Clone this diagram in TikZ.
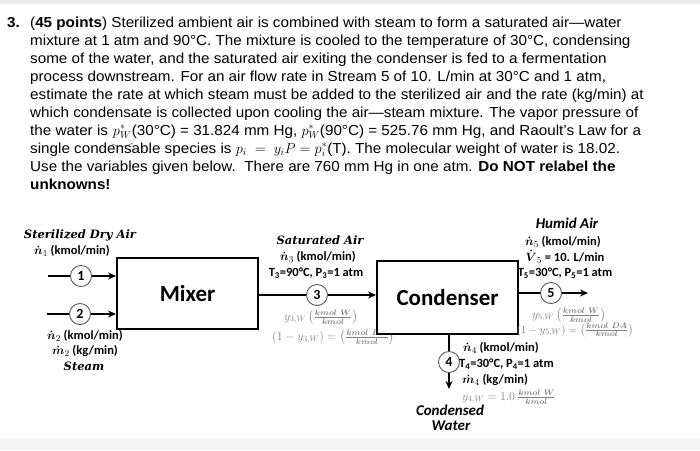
\documentclass[tikz,border=0pt]{standalone}
\usepackage{amsmath}
\usepackage{fontspec}
\setmainfont{Liberation Sans}[FakeStretch=1.05]
\newfontfamily\calfont{Carlito}
\newfontfamily\cambfont{DejaVu Serif}
\usetikzlibrary{arrows.meta}
\tikzset{
  txt/.style={anchor=base west, inner sep=0pt, font=\fontsize{14.5}{17}\selectfont},
  lab/.style={inner sep=0pt, text height=9pt, text depth=2.5pt, font=\calfont\bfseries\fontsize{12.5}{14}\selectfont},
  labw/.style={lab, anchor=west},
  serbi/.style={inner sep=0pt, text height=9pt, text depth=2.5pt, font=\cambfont\bfseries\itshape\fontsize{11.5}{14}\selectfont},
  calbi/.style={inner sep=0pt, text height=10pt, text depth=2.5pt, font=\calfont\bfseries\itshape\fontsize{15}{17}\selectfont},
  grayf/.style={inner sep=0pt, text=black!50, font=\fontsize{12}{14}\selectfont},
  unit/.style={draw, line width=2.2pt, fill=white, inner sep=0pt,
    font=\calfont\bfseries\fontsize{23}{26}\selectfont},
  circ/.style={circle, draw=black!65, line width=0.9pt, fill=white, minimum size=21pt,
    inner sep=0pt, font=\calfont\bfseries\fontsize{14}{16}\selectfont},
  flow/.style={line width=2pt},
  flowarr/.style={line width=2pt, -{Stealth[length=8pt,width=7pt]}}
}
\begin{document}
\begin{tikzpicture}[x=1pt,y=-1pt]
\useasboundingbox (0,0) rectangle (700,450);
\fill[white] (0,0) rectangle (700,450);
\fill[black!7] (0,0) rectangle (700,4);
\fill[black!4] (0,438) rectangle (700,450);

% problem statement
\node[txt] (q0) at (7,27) {\bfseries 3.};
\node[txt] (q1) at (30,27) {(\textbf{45 points}) Sterilized ambient air is combined with steam to form a saturated air—water};
\node[txt] (q2) at (30,45) {mixture at 1 atm and 90°C. The mixture is cooled to the temperature of 30°C, condensing};
\node[txt] (q3) at (30,63) {some of the water, and the saturated air exiting the condenser is fed to a fermentation};
\node[txt] (q4) at (30,81) {process downstream. For an air flow rate in Stream 5 of 10. L/min at 30°C and 1 atm,};
\node[txt] (q5) at (30,99) {estimate the rate at which steam must be added to the sterilized air and the rate (kg/min) at};
\node[txt] (q6) at (30,117) {which condensate is collected upon cooling the air—steam mixture. The vapor pressure of};
\node[txt] (q7a) at (30,135) {the water is};
\node[txt] (q7b) at ([xshift=4.5pt]q7a.base east) {$p_W^*$};
\node[txt] (q7c) at (q7b.base east) {(30°C) = 31.824 mm Hg, $p_W^*$(90°C) = 525.76 mm Hg, and Raoult's Law for a};
\draw[black!45, line width=0.8pt] ([xshift=-1pt,yshift=-5pt]q7b.south west) .. controls ([xshift=6pt,yshift=-8pt]q7b.south west) and ([xshift=-6pt,yshift=-8pt]q7b.south east) .. ([xshift=1pt,yshift=-4pt]q7b.south east);
\node[txt] (q8) at (30,153) {single condensable species is $p_i\;=\;y_iP = p_i^*$(T). The molecular weight of water is 18.02.};
\node[txt] (q9) at (30,171) {Use the variables given below.\ \ There are 760 mm Hg in one atm. \textbf{Do NOT relabel the}};
\node[txt] (q10) at (30,189) {\bfseries unknowns!};

% formulas that sit partly under the condenser box
\node[grayf] (f3a) at (321,317) {$y_{3,W}\left(\frac{\boldsymbol{kmol\ W}}{\boldsymbol{kmol}}\right)$};
\node[grayf, anchor=west] (f3b) at (272,337) {$(1-y_{3,W}) = \left(\frac{\boldsymbol{kmol\ DA}}{\boldsymbol{kmol}}\right)$};
\node[lab] (l5d) at (565,273) {T\textsubscript{5}=30°C, P\textsubscript{5}=1 atm};

% units
\node[unit, minimum width=141pt, minimum height=71pt, anchor=north west] (mixer) at (116,257) {Mixer};
\node[unit, minimum width=141pt, minimum height=73pt, anchor=north west] (cond) at (376,260) {Condenser};

% stream 1
\coordinate (s1a) at (48,276);
\node[circ] (c1) at (81,276) {1};
\draw[flow] (s1a) -- (c1);
\draw[flowarr] (c1) -- (c1 -| mixer.west);
\node[serbi] (l1a) at (80,235) {Sterilized Dry Air};
\node[lab] (l1b) at (72,251) {$\boldsymbol{\dot n}_1$ (kmol/min)};

% stream 2
\coordinate (s2a) at (47,314);
\node[circ] (c2) at (80,314) {2};
\draw[flow] (s2a) -- (c2);
\draw[flowarr] (c2) -- (c2 -| mixer.west);
\node[lab] (l2a) at (85,336) {$\boldsymbol{\dot n}_2$ (kmol/min)};
\node[lab] (l2b) at (85,351) {$\boldsymbol{\dot m}_2$ (kg/min)};
\node[serbi] (l2c) at (84,367) {Steam};

% stream 3
\node[circ] (c3) at (317,295) {3};
\draw[flow] (mixer.east |- c3) -- (c3);
\draw[flowarr] (c3) -- (c3 -| cond.west);
\node[serbi] (l3a) at (320,241) {Saturated Air};
\node[lab] (l3b) at (318,257) {$\boldsymbol{\dot n}_3$ (kmol/min)};
\node[lab] (l3c) at (316,273) {T\textsubscript{3}=90°C, P\textsubscript{3}=1 atm};

% stream 5
\node[circ] (c5) at (551,293) {5};
\coordinate (s5b) at (588,293);
\draw[flow] (cond.east |- c5) -- (c5);
\draw[flowarr] (c5) -- (s5b);
\node[calbi] (l5a) at (567,225) {Humid Air};
\node[lab] (l5b) at (563,242) {$\boldsymbol{\dot n}_5$ (kmol/min)};
\node[lab] (l5c) at (565,258) {$\boldsymbol{\dot V}_5$ = 10. L/min};
\node[grayf] (f5a) at (569,315) {$y_{5,W}\left(\frac{\boldsymbol{kmol\ W}}{\boldsymbol{kmol}}\right)$};
\node[grayf, font=\fontsize{11}{13}\selectfont] (f5b) at (575,330) {$(1-y_{5,W}) = \left(\frac{\boldsymbol{kmol\ DA}}{\boldsymbol{kmol}}\right)$};

% stream 4
\node[circ] (c4) at (449,362) {4};
\coordinate (s4b) at (449,389);
\draw[flow] (cond.south -| c4) -- (c4);
\draw[flowarr] (c4) -- (s4b);
\node[labw] (l4a) at (463,348) {$\boldsymbol{\dot n}_4$ (kmol/min)};
\node[labw] (l4b) at (459,364) {T\textsubscript{4}=30°C, P\textsubscript{4}=1 atm};
\node[labw] (l4c) at (462,380) {$\boldsymbol{\dot m}_4$ (kg/min)};
\node[grayf, anchor=west] (f4) at (462,397) {$y_{4,W} = 1.0\,\frac{\boldsymbol{kmol\ W}}{\boldsymbol{kmol}}$};
\node[calbi] (l4d) at (450,412) {Condensed};
\node[calbi] (l4e) at (451,427) {Water};
\end{tikzpicture}
\end{document}
